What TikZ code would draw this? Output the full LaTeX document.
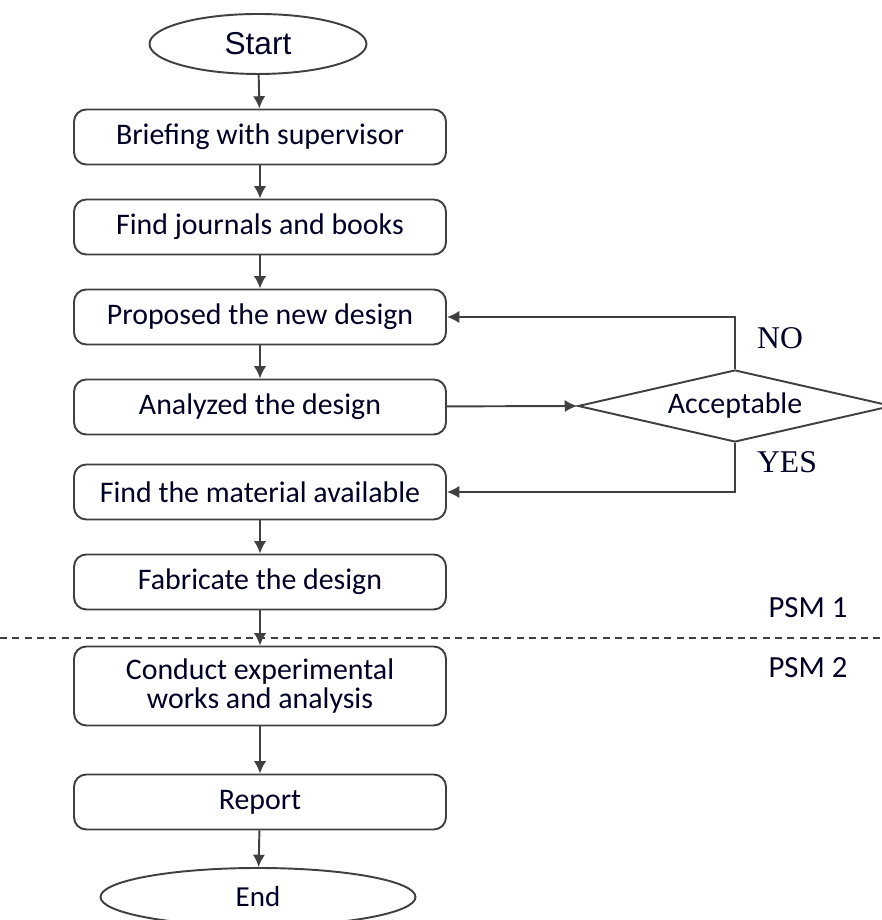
\documentclass[tikz,border=0pt]{standalone}
\usepackage{fontspec}
\setmainfont{Carlito}
\newfontfamily\arialfont{Liberation Sans}
\newfontfamily\timesfont{Liberation Serif}
\usepackage{tikz}
\usetikzlibrary{shapes.geometric,arrows.meta}
\newcommand{\lcol}{black!75}
\newcommand{\tcol}{black!85!blue}

\tikzset{
  etape/.style={draw=\lcol, line width=1.1pt, rounded corners=7pt, minimum width=7.44cm, minimum height=1.1cm, align=center, text=\tcol, font=\fontsize{17}{17}\selectfont},
  ovale/.style={draw=\lcol, line width=1.1pt, ellipse, inner sep=0pt, text=\tcol},
  fleche/.style={draw=\lcol, line width=1.1pt, -{Latex[length=7pt,width=7pt]}},
  etiq/.style={text=\tcol, font=\timesfont\fontsize{18}{20}\selectfont}
}

\begin{document}
\begin{tikzpicture}

    \useasboundingbox (0, 0) rectangle (17.62, 18.4);

    \node[ovale, minimum width=4.34cm, minimum height=1.2cm, font=\arialfont\fontsize{18}{20}\selectfont] (start) at (5.16, 17.52) {Start};

    \node[etape] (brief) at (5.2, 15.66) {Briefing with supervisor};
    \node[etape] (journ) at (5.2, 13.86) {Find journals and books};
    \node[etape] (propose) at (5.2, 12.06) {Proposed the new design};
    \node[etape] (analyse) at (5.2, 10.26) {Analyzed the design};
    \node[etape] (material) at (5.2, 8.56) {Find the material available};
    \node[etape] (fabric) at (5.2, 6.76) {Fabricate the design};
    \node[etape, minimum height=1.58cm] (conduct) at (5.2, 4.68) {Conduct experimental\\works and analysis};
    \node[etape] (report) at (5.2, 2.36) {Report};

    \node[ovale, minimum width=6.3cm, minimum height=1.16cm, font=\fontsize{16.5}{18}\selectfont] (end) at (5.16, 0.46) {End};

    % test de conception
    \node[draw=\lcol, line width=1.1pt, diamond, aspect=4.4, inner sep=0pt, minimum width=6.28cm, minimum height=1.44cm, text=\tcol, font=\fontsize{17}{18}\selectfont] (accept) at (14.7, 10.28) {Acceptable};

    \node[etiq] (no) at (15.6, 11.64) {NO};
    \node[etiq] (yes) at (15.74, 9.16) {YES};

    % separation PSM 1 / PSM 2
    \draw[draw=\lcol, line width=0.8pt, dash pattern=on 4pt off 3pt] (0, 5.64) -- (17.62, 5.64);
    \node[text=\tcol, font=\fontsize{17.5}{19}\selectfont] (psma) at (16.16, 6.24) {PSM 1};
    \node[text=\tcol, font=\fontsize{17.5}{19}\selectfont] (psmb) at (16.16, 5.04) {PSM 2};

    \draw[fleche] (start) -- (brief);
    \draw[fleche] (brief) -- (journ);
    \draw[fleche] (journ) -- (propose);
    \draw[fleche] (propose) -- (analyse);
    \draw[fleche] (analyse) -- (accept.west);
    \draw[fleche] (accept.north) |- (propose.east);
    \draw[fleche] (accept.south) |- (material.east);
    \draw[fleche] (material) -- (fabric);
    \draw[fleche] (fabric) -- (conduct);
    \draw[fleche] (conduct) -- (report);
    \draw[fleche] (report) -- (end);

  \end{tikzpicture}
\end{document}
